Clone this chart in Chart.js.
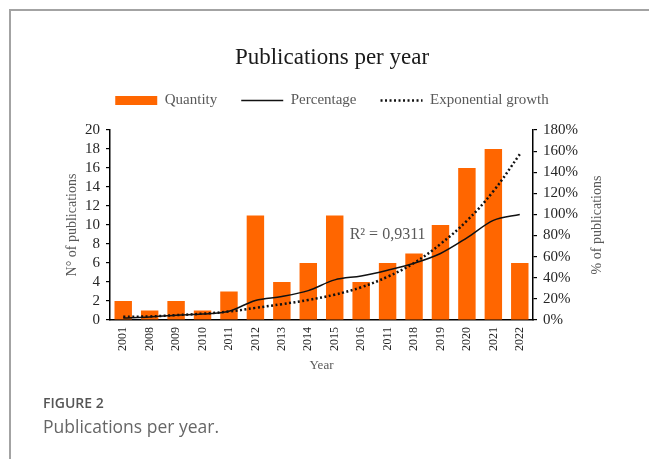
<!DOCTYPE html>
<html><head><meta charset="utf-8">
<script src="https://cdn.jsdelivr.net/npm/chart.js@4.4.1/dist/chart.umd.min.js"></script>
<style>
html,body{margin:0;padding:0;background:#fff;}
body{width:649px;height:459px;position:relative;overflow:hidden;}
#frame{position:absolute;left:9px;top:9px;width:640px;height:450px;border-top:2px solid #a3a3a3;border-left:2px solid #a3a3a3;box-sizing:border-box;}
#c{position:absolute;left:11px;top:11px;}
.cap1{position:absolute;left:43px;top:394px;font:600 14px/18px "Open Sans";color:#555;white-space:nowrap;}
.cap2{position:absolute;left:43px;top:415px;font:400 17.5px/22px "Open Sans";color:#666;white-space:nowrap;}
</style></head>
<body>
<div id="frame"></div>
<canvas id="c" width="638" height="448"></canvas>
<div class="cap1">FIGURE 2</div>
<div class="cap2">Publications per year.</div>
<script>
const years = ['2001','2008','2009','2010','2011','2012','2013','2014','2015','2016','2011','2018','2019','2020','2021','2022'];
const quantity = [2,1,2,1,3,11,4,6,11,4,6,7,10,16,18,6];
const percentage = [1.9,2.8,4.6,5.6,8.3,18.5,22.2,27.8,38.0,41.7,47.2,53.7,63.0,77.8,94.4,100];
const expGrowth = [3.0,3.4,4.6,6.0,8.0,11.5,15,19,24,31,41,54,72,94,122,157];
const leftTickLabels = ['0','2','4','6','8','10','12','14','16','18','20'];
const rightTickLabels = ['0%','20%','40%','60%','80%','100%','120%','140%','160%','180%'];
const seriesNames = ['Quantity','Percentage','Exponential growth'];
const legendStyles = ['rect','line','line'];
const chartTitle = 'Publications per year';
const xTitle = 'Year';
const leftTitle = 'N° of publications';
const rightTitle = '% of publications';
const r2Label = 'R² = 0,9311';
const r2AtCategory = 10;
const r2AtValue = 9;

const SERIF = '"Liberation Serif", "Times New Roman", serif';
Chart.defaults.font.family = SERIF;

const extras = {
  id: 'extras',
  beforeLayout(chart) {
    const lg = chart.legend;
    if (lg && !lg._gapPatched) {
      const f = lg.fit;
      lg.fit = function () { f.call(this); this.height += 12; };
      lg._gapPatched = true;
    }
  },
  afterDraw(chart) {
    const { ctx, chartArea, scales } = chart;
    ctx.save();
    ctx.font = '14px ' + SERIF;
    ctx.fillStyle = '#595959';
    ctx.translate(586, (chartArea.top + chartArea.bottom) / 2);
    ctx.rotate(-Math.PI / 2);
    ctx.textAlign = 'center';
    ctx.textBaseline = 'middle';
    ctx.fillText(rightTitle, 0, 0);
    ctx.restore();

    ctx.save();
    ctx.font = '16px ' + SERIF;
    ctx.fillStyle = '#595959';
    ctx.textAlign = 'center';
    ctx.textBaseline = 'middle';
    ctx.fillText(r2Label, scales.x.getPixelForValue(r2AtCategory), scales.y.getPixelForValue(r2AtValue));
    ctx.restore();
  }
};

new Chart(document.getElementById('c'), {
  data: {
    labels: years,
    datasets: [
      { type: 'bar', label: seriesNames[0], data: quantity, backgroundColor: '#FF6600', borderWidth: 0,
        barPercentage: 0.66, categoryPercentage: 1, yAxisID: 'y', order: 2 },
      { type: 'line', label: seriesNames[1], data: percentage, borderColor: '#111', backgroundColor: '#111',
        borderWidth: 1.5, pointRadius: 0, cubicInterpolationMode: 'monotone', yAxisID: 'y2', order: 0 },
      { type: 'line', label: seriesNames[2], data: expGrowth, borderColor: '#111', backgroundColor: '#111',
        borderWidth: 2.5, borderDash: [2, 2.5], pointRadius: 0, tension: 0.4, yAxisID: 'y2', order: 1 }
    ]
  },
  options: {
    responsive: false,
    devicePixelRatio: 1,
    animation: false,
    layout: { padding: { left: 49, right: 45, top: 0, bottom: 82 } },
    plugins: {
      tooltip: { enabled: false },
      title: { display: true, text: chartTitle, color: '#1a1a1a',
        font: { family: SERIF, size: 23, weight: 'normal', lineHeight: 1 }, padding: { top: 35, bottom: 0 } },
      legend: {
        position: 'top',
        labels: {
          usePointStyle: true, pointStyleWidth: 42, boxHeight: 9, padding: 24,
          color: '#595959', font: { family: SERIF, size: 15 },
          sort: (a, b) => a.datasetIndex - b.datasetIndex,
          generateLabels(chart) {
            const items = Chart.defaults.plugins.legend.labels.generateLabels(chart);
            items.forEach(it => {
              const ds = chart.data.datasets[it.datasetIndex];
              it.pointStyle = legendStyles[it.datasetIndex];
              if (ds.type === 'line') {
                it.lineDash = ds.borderDash || [];
                it.lineWidth = ds.borderWidth;
                it.strokeStyle = ds.borderColor;
              }
            });
            return items;
          }
        }
      }
    },
    scales: {
      x: {
        type: 'category', offset: true,
        grid: { display: false, drawTicks: false },
        border: { display: true, color: '#000', width: 1.5 },
        ticks: { autoSkip: false, minRotation: 90, maxRotation: 90, padding: 7, color: '#262626',
          font: { family: SERIF, size: 12 } },
        title: { display: true, text: xTitle, color: '#595959', font: { family: SERIF, size: 13 }, padding: { top: 4, bottom: 4 } },
        afterFit(s) { s.height = 57; }
      },
      y: {
        position: 'left', min: 0, max: 20,
        ticks: { stepSize: 2, autoSkip: false, padding: 6, color: '#262626', font: { family: SERIF, size: 15 },
          callback: (v, i) => leftTickLabels[i] },
        grid: { drawOnChartArea: false, drawTicks: true, tickLength: 4, color: '#000', lineWidth: 1.2 },
        border: { display: true, color: '#000', width: 1.5 },
        title: { display: true, text: leftTitle, color: '#595959', font: { family: SERIF, size: 14 }, padding: { top: 4, bottom: 4 } },
        afterFit(s) { s.width = 50; }
      },
      y2: {
        position: 'right', min: 0, max: 180,
        ticks: { stepSize: 20, autoSkip: false, padding: 6, color: '#262626', font: { family: SERIF, size: 15 },
          callback: (v, i) => rightTickLabels[i] },
        grid: { drawOnChartArea: false, drawTicks: true, tickLength: 4, color: '#000', lineWidth: 1.2 },
        border: { display: true, color: '#000', width: 1.5 },
        title: { display: false },
        afterFit(s) { s.width = 71; }
      }
    }
  },
  plugins: [extras]
});
</script>
</body></html>
